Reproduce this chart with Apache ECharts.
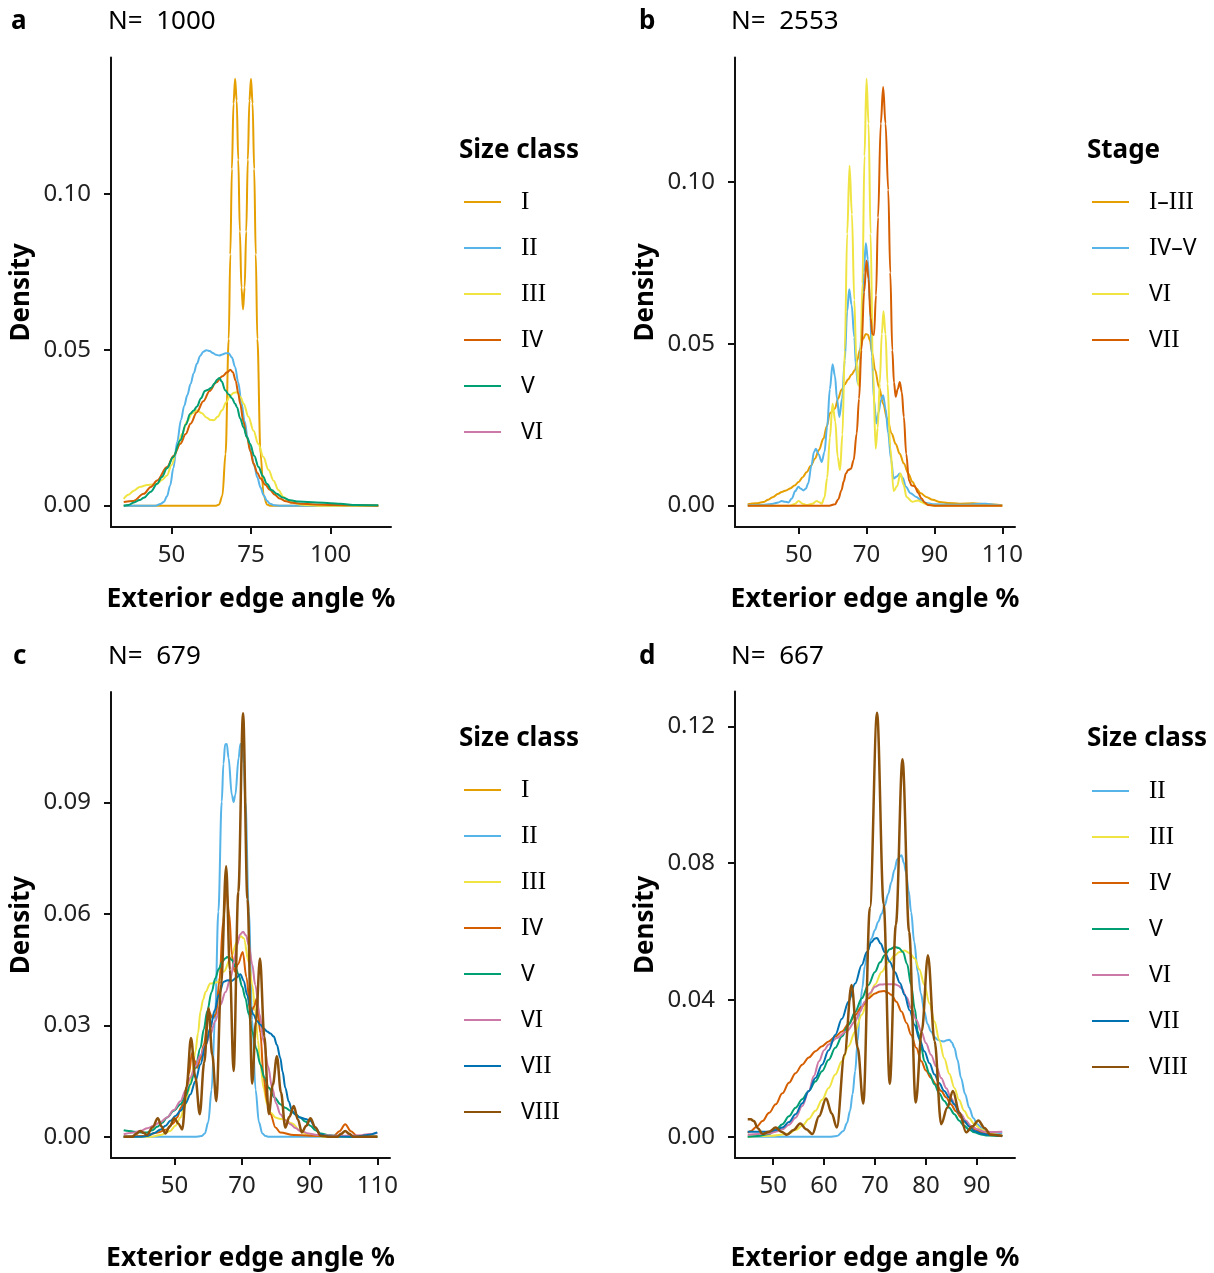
<!DOCTYPE html>
<html>
<head>
<meta charset="utf-8">
<script src="https://cdn.jsdelivr.net/npm/echarts@6/dist/echarts.min.js"></script>
<style>
html,body{margin:0;padding:0;background:#fff;}
#chart{width:1214px;height:1273px;}
</style>
</head>
<body>
<div id="chart"></div>
<script>
// ---------------- Data (x = exterior edge angle, y = density) ----------------
// Panel a (N = 1000), Size class
const a_I = [[35,0],[60,0],[64,0],[65,0.0004],[66,0.0032],[67,0.0166],[68,0.0535],[68.5,0.0806],[69,0.108],[69.5,0.129],[70,0.137],[70.5,0.130],[71,0.111],[71.5,0.088],[72,0.070],[72.5,0.063],[73,0.070],[73.5,0.088],[74,0.111],[74.5,0.130],[75,0.137],[75.5,0.129],[76,0.108],[76.5,0.0806],[77,0.0535],[78,0.0166],[79,0.0032],[80,0.0004],[81,0],[90,0],[115,0]];
const a_II = [[35,0],[45,0],[46.5,0.0005],[47.6,0.0012],[48.6,0.003],[49.6,0.0065],[50.6,0.012],[51.8,0.0205],[53,0.0275],[54,0.032],[55,0.0355],[56,0.039],[57,0.0425],[58,0.0455],[59,0.048],[60,0.0494],[61,0.0499],[62,0.0496],[63,0.049],[64,0.0484],[65,0.0482],[66,0.0485],[67,0.0489],[68,0.0489],[69,0.0475],[70,0.0445],[71,0.0395],[72,0.033],[73,0.027],[74,0.0215],[75,0.017],[76,0.0128],[77,0.009],[78,0.0058],[79,0.0033],[80,0.0016],[81,0.0006],[82.5,0.0001],[84,0],[115,0]];
const a_III = [[35,0.0022],[36.5,0.0035],[38.2,0.0048],[40,0.006],[42.4,0.0066],[44,0.0068],[45.5,0.007],[47,0.0082],[48.6,0.0097],[50,0.013],[51.8,0.0182],[53.3,0.023],[54.9,0.027],[56.5,0.0296],[58,0.0306],[59.5,0.0297],[61,0.0283],[62.3,0.0275],[63.3,0.0274],[64.5,0.0285],[65.9,0.0306],[67.2,0.0332],[68.5,0.0354],[69.6,0.0362],[70.6,0.0364],[71.7,0.0348],[72.7,0.0327],[74.2,0.0285],[75.8,0.024],[77.3,0.0198],[78.9,0.0156],[80.5,0.0115],[82.1,0.008],[83.6,0.005],[85.2,0.0028],[86.7,0.0015],[88.3,0.0009],[90.4,0.0004],[92.5,0.0002],[96,0],[115,0]];
const a_IV = [[35,0.0012],[38,0.0015],[41.3,0.0038],[43.5,0.006],[45.5,0.0081],[48.6,0.0124],[50.7,0.016],[52.8,0.0199],[54.5,0.023],[56,0.0263],[58,0.030],[60,0.0335],[62,0.0368],[64,0.0395],[66,0.0415],[67.5,0.0428],[68.5,0.0436],[69.3,0.0428],[70.2,0.040],[71,0.036],[71.6,0.0327],[72.6,0.027],[73.7,0.022],[74.8,0.0175],[75.8,0.0135],[77,0.0105],[78,0.0087],[79.5,0.0067],[81,0.005],[82.5,0.0035],[84,0.0023],[86,0.0014],[88,0.0009],[90.5,0.0006],[95,0.0004],[101,0.0002],[108,0.0001],[115,0]];
const a_V = [[35,0],[36.5,0.0002],[38.2,0.001],[40,0.0018],[41.3,0.0025],[43.5,0.0045],[45.5,0.007],[47,0.0092],[48.6,0.012],[50.5,0.0155],[52.8,0.021],[54.5,0.026],[55.9,0.0295],[57,0.0305],[58,0.0318],[59.3,0.0345],[60.5,0.0368],[61.5,0.0372],[62.5,0.0378],[63.5,0.0392],[64.4,0.0405],[65.1,0.041],[65.8,0.0398],[66.9,0.037],[68,0.0357],[69,0.0345],[70,0.0327],[70.6,0.0316],[71.6,0.028],[72.7,0.025],[73.7,0.022],[74.7,0.0199],[76,0.016],[77.4,0.0124],[78.7,0.0095],[80,0.007],[81.5,0.005],[83.1,0.0038],[85,0.0026],[87.3,0.0017],[90,0.0013],[95.6,0.001],[100,0.0008],[103,0.0006],[108,0.0002],[115,0.0001]];
const a_VI = [];

// Panel b (N = 2553), Stage
const b_I_III = [[35,0.0004],[37.5,0.0007],[39.6,0.0011],[41,0.0018],[42.5,0.0027],[44,0.0037],[45,0.0042],[46.3,0.0047],[47.5,0.0053],[48.8,0.0062],[50,0.0073],[51.2,0.0088],[52.4,0.0104],[53.6,0.0123],[54.8,0.0145],[56,0.0172],[57.3,0.0207],[58.3,0.0245],[59.2,0.0285],[60.7,0.030],[61.6,0.033],[62.6,0.0357],[63.6,0.0375],[64.6,0.039],[65.6,0.0405],[66.6,0.0419],[67.3,0.045],[68,0.048],[69,0.0515],[69.8,0.053],[70.4,0.0528],[71,0.051],[71.7,0.047],[72.5,0.042],[73.7,0.0365],[74.9,0.0315],[76.1,0.0268],[77.4,0.0223],[78.6,0.019],[79.8,0.016],[81,0.013],[82.3,0.0099],[83.5,0.0074],[84.7,0.0053],[86,0.0038],[87.6,0.0027],[89.5,0.0018],[91.6,0.0011],[94,0.0008],[97.5,0.0006],[101.4,0.0007],[105.3,0.0004],[110,0.0001]];
const b_IV_V = [[35,0.0001],[40,0.0003],[42.5,0.0006],[44,0.001],[45,0.0014],[46,0.0012],[47,0.001],[48,0.0022],[49,0.0045],[49.9,0.0058],[50.7,0.0052],[51.4,0.0047],[52.1,0.0052],[52.8,0.0068],[53.8,0.0125],[54.5,0.0165],[55.1,0.0176],[55.9,0.0158],[56.8,0.0135],[57.6,0.0165],[58.4,0.0243],[59.2,0.036],[60,0.0437],[60.7,0.040],[61.3,0.033],[62,0.0274],[62.8,0.033],[63.6,0.045],[64.3,0.060],[64.9,0.0668],[65.6,0.062],[66.4,0.052],[66.9,0.043],[67.4,0.0377],[67.9,0.042],[68.5,0.053],[69.2,0.072],[69.8,0.081],[70.4,0.076],[71,0.0625],[71.6,0.046],[72.2,0.0326],[72.9,0.0254],[73.6,0.029],[74.2,0.0325],[74.9,0.0341],[75.6,0.030],[76.4,0.0223],[77.2,0.0145],[78,0.0084],[78.9,0.009],[79.8,0.0099],[80.7,0.0085],[81.6,0.0058],[83,0.0038],[84.7,0.0027],[86,0.0017],[87.6,0.0008],[90,0.0004],[95.5,0.0003],[100,0.0003],[103,0.0005],[105.3,0.0006],[107.5,0.0003],[110,0]];
const b_VI = [[35,0],[45,0],[47.5,0],[48.8,0.0005],[50,0.0014],[51.2,0.0006],[52.4,0.0002],[54,0.0006],[55.3,0.0014],[56.2,0.001],[56.8,0.0006],[57.6,0.0025],[58.4,0.0085],[59.2,0.021],[60,0.0315],[60.8,0.026],[61.5,0.015],[62.2,0.011],[62.9,0.022],[63.6,0.048],[64.3,0.084],[65,0.105],[65.7,0.090],[66.4,0.0635],[67,0.045],[67.6,0.037],[68.2,0.045],[68.8,0.0687],[69.4,0.108],[70,0.1318],[70.6,0.118],[71.2,0.084],[71.9,0.042],[72.7,0.0176],[73.3,0.024],[73.9,0.0377],[74.5,0.053],[75,0.060],[75.6,0.053],[76.2,0.0377],[77,0.018],[78,0.0045],[79,0.006],[80,0.0099],[80.9,0.0065],[81.8,0.0027],[83.5,0.0012],[85.2,0.0016],[86.4,0.001],[87.6,0.0004],[90,0],[110,0]];
const b_VII = [[35,0],[59,0],[60.7,0.0004],[61.7,0.002],[62.6,0.0047],[63.3,0.0075],[63.9,0.0099],[64.6,0.011],[65.4,0.0114],[66.2,0.014],[67.1,0.0223],[67.8,0.033],[68.5,0.048],[69.3,0.066],[70,0.0757],[70.6,0.070],[71.2,0.058],[71.7,0.053],[72.2,0.0527],[72.8,0.065],[73.4,0.089],[74.2,0.118],[74.9,0.1293],[75.6,0.118],[76.4,0.0975],[77,0.072],[77.6,0.048],[78.1,0.038],[78.6,0.0336],[79.2,0.036],[79.8,0.0382],[80.4,0.035],[81,0.0274],[81.7,0.016],[82.5,0.0078],[83.3,0.0062],[84.2,0.006],[85.2,0.004],[86.2,0.0022],[87.1,0.001],[88.1,0.0002],[90,0],[110,0]];

// Panel c (N = 679), Size class
const c_I = [];
const c_II = [[35,0],[56,0],[57,0.0001],[58,0.0002],[59,0.0009],[60,0.0039],[61,0.0127],[62,0.0315],[63,0.0607],[64,0.0903],[64.5,0.1005],[65,0.1057],[65.5,0.1058],[66,0.1021],[67,0.092],[67.5,0.0902],[68,0.092],[69,0.1021],[69.5,0.1058],[70,0.1057],[70.5,0.1005],[71,0.0903],[72,0.0607],[73,0.0315],[74,0.0127],[75,0.0039],[76,0.0009],[77,0.0002],[78,0],[110,0]];
const c_III = [[35,0],[43,0],[45.9,0.0005],[48.8,0.0016],[50.3,0.003],[51.8,0.0052],[53,0.008],[54.2,0.0123],[55.2,0.017],[56.2,0.023],[57,0.028],[57.7,0.0338],[58.5,0.037],[59.2,0.039],[60.6,0.0413],[62.6,0.0416],[64.6,0.0445],[66.6,0.048],[68.5,0.0525],[69.6,0.054],[70.5,0.0535],[72,0.047],[73,0.041],[73.9,0.0338],[74.7,0.026],[75.4,0.0195],[76.4,0.013],[77.4,0.0088],[78.5,0.0065],[79.9,0.0052],[81,0.0049],[82.3,0.0047],[84.8,0.0036],[87.2,0.0016],[89,0.0008],[91.2,0.0003],[95,0],[110,0]];
const c_IV = [[35,0],[41,0.0002],[45.1,0.0012],[47.8,0.002],[49.5,0.0035],[50.8,0.0052],[52,0.008],[53.3,0.0114],[54.3,0.017],[55.2,0.0226],[56,0.0205],[56.7,0.0186],[57.7,0.021],[58.7,0.0248],[60.1,0.0338],[61.3,0.032],[62.3,0.033],[63.3,0.042],[64.4,0.058],[65.3,0.0668],[66.2,0.060],[67,0.049],[67.8,0.0445],[68.8,0.0465],[70.2,0.0498],[71.3,0.043],[72.5,0.0329],[73.5,0.035],[74.4,0.0373],[75.4,0.028],[76.4,0.0159],[77.4,0.0095],[78.4,0.0061],[79.9,0.0025],[81.3,0.0012],[85.3,0.0005],[90,0.0003],[97.1,0.0002],[98.8,0.0015],[100.5,0.0034],[102.2,0.0015],[104,0.0002],[110,0]];
const c_V = [[35,0.0018],[36.5,0.0016],[38,0.0014],[40,0.0012],[41.9,0.0012],[43.5,0.0018],[44.9,0.0027],[46.4,0.0038],[47.8,0.0052],[49.8,0.007],[51.8,0.0088],[53.3,0.011],[54.7,0.0141],[56.2,0.0185],[57.7,0.024],[58.7,0.029],[59.7,0.0338],[61,0.039],[62.1,0.0427],[63.1,0.0452],[64.1,0.0471],[65,0.048],[65.6,0.0484],[66.3,0.0482],[67,0.0476],[68,0.0458],[69,0.0436],[70,0.0405],[71,0.0373],[72,0.033],[73,0.0284],[74.2,0.0238],[75.4,0.0195],[76.6,0.016],[77.9,0.0132],[79.6,0.0106],[81.3,0.0088],[82.8,0.0078],[84.3,0.007],[85.8,0.0061],[87.2,0.0052],[88.7,0.0041],[90.2,0.003],[91.7,0.0018],[93.2,0.0009],[96,0.0004],[99.1,0.0002],[103,0],[110,0]];
const c_VI = [[35,0.0007],[37.5,0.0011],[39.9,0.0016],[42,0.0023],[43.9,0.003],[45.9,0.004],[47.8,0.0052],[49.8,0.0072],[51.8,0.0096],[53.3,0.0125],[54.7,0.0159],[56.2,0.019],[57.7,0.022],[59.2,0.0248],[60.6,0.0275],[62.1,0.0312],[63.6,0.0355],[65.1,0.039],[66.6,0.0427],[67.6,0.047],[68.5,0.0516],[69.4,0.0545],[70.3,0.0552],[71.2,0.0542],[72,0.0516],[73,0.0465],[73.9,0.0409],[75.2,0.033],[76.4,0.0257],[77.7,0.019],[78.9,0.0132],[80.1,0.009],[81.3,0.0061],[82.8,0.0045],[84.3,0.0034],[85.8,0.0024],[87.2,0.0016],[89.7,0.0009],[92.2,0.0005],[97.1,0.0003],[102,0.0003],[105,0.0004],[107,0.0007],[110,0.001]];
const c_VII = [[35,0],[40,0],[41.9,0.0002],[44,0.001],[45.9,0.002],[47.4,0.003],[48.8,0.0043],[50.3,0.0056],[51.8,0.007],[53.3,0.009],[54.7,0.0114],[56.2,0.015],[57.7,0.0195],[59.2,0.0245],[60.6,0.0293],[61.9,0.034],[63.1,0.0382],[64.6,0.0418],[65.8,0.0422],[67,0.042],[68.2,0.0428],[69.5,0.0438],[70.5,0.042],[71.5,0.0382],[72.4,0.035],[73.4,0.0329],[74.4,0.0312],[75.4,0.0302],[76.4,0.0292],[77.4,0.0284],[78.4,0.0278],[79.4,0.027],[80.3,0.0248],[81.3,0.0213],[82,0.0175],[82.8,0.0132],[83.8,0.0095],[84.8,0.007],[86,0.0058],[87.2,0.0052],[88.7,0.0048],[90.2,0.0043],[91.7,0.0025],[93.2,0.0007],[95,0.0002],[97.1,0],[103,0],[105,0.0002],[107,0.0005],[110,0.0012]];
const c_VIII = [[35,0],[37.5,0],[38.7,0.0008],[39.9,0.0016],[41,0.001],[41.9,0.0005],[43.5,0.0025],[45.1,0.005],[46.2,0.0028],[47.3,0.0009],[48.6,0.0028],[50,0.005],[51.2,0.0035],[52.3,0.002],[53.6,0.0135],[54.9,0.0266],[56.2,0.016],[57.5,0.0061],[58.8,0.02],[60.1,0.0346],[61.2,0.022],[62.4,0.0096],[63.8,0.041],[65.3,0.0729],[66.4,0.045],[67.5,0.0177],[68.9,0.066],[70.3,0.1141],[71.6,0.064],[73,0.0143],[74.1,0.031],[75.3,0.048],[76.6,0.027],[77.9,0.0061],[79.1,0.014],[80.3,0.0217],[81.5,0.012],[82.8,0.0025],[84,0.0054],[85.3,0.0083],[86.5,0.0047],[87.7,0.0012],[89,0.003],[90.2,0.005],[91.7,0.0025],[93.2,0.0003],[96,0],[98.1,0],[99.3,0.0008],[100.5,0.0016],[101.7,0.0008],[103,0],[110,0]];

// Panel d (N = 667), Size class
const d_II = [[45,0],[61,0],[62.5,0.0002],[63.8,0.0017],[64.5,0.004],[65.1,0.0076],[65.6,0.0125],[66.1,0.0192],[66.6,0.028],[67,0.0366],[67.5,0.0435],[68,0.050],[68.6,0.0545],[69.3,0.058],[70,0.0605],[70.6,0.0628],[71.3,0.0652],[71.9,0.0676],[72.6,0.071],[73.2,0.0744],[73.8,0.078],[74.4,0.0812],[75.2,0.0823],[75.7,0.080],[76.1,0.0773],[76.6,0.072],[77.1,0.0657],[77.7,0.057],[78.4,0.0482],[79,0.042],[79.7,0.0366],[80.3,0.033],[81,0.0308],[81.7,0.0292],[82.3,0.0284],[83,0.028],[83.5,0.0279],[84.1,0.0282],[84.6,0.0284],[85.1,0.0276],[85.6,0.026],[86.2,0.0225],[86.9,0.0172],[87.7,0.0125],[88.5,0.0085],[89.3,0.0055],[90.1,0.0037],[91,0.0025],[92.1,0.0015],[93.5,0.0012],[95,0.001]];
const d_III = [[45,0],[49.8,0.0003],[51.5,0.0006],[53.1,0.001],[54.4,0.002],[55.7,0.0032],[57,0.0052],[58.3,0.0076],[59.6,0.0108],[60.9,0.0143],[62.2,0.0182],[63.5,0.0221],[64.8,0.0265],[66.1,0.0308],[67.4,0.0357],[68.7,0.0405],[70,0.0445],[71.3,0.0482],[72.6,0.051],[73.9,0.0531],[74.8,0.054],[75.8,0.0545],[76.8,0.0537],[77.8,0.0521],[78.7,0.049],[79.7,0.0444],[80.7,0.039],[81.7,0.0337],[82.6,0.0283],[83.6,0.023],[84.6,0.0184],[85.6,0.0143],[86.5,0.0108],[87.5,0.0076],[88.5,0.0054],[89.5,0.0037],[90.8,0.0022],[92.1,0.0013],[93.6,0.0007],[95,0.0003]];
const d_IV = [[45,0.0012],[45.6,0.0017],[46.8,0.003],[47.9,0.0046],[49.2,0.007],[50.5,0.0095],[51.8,0.0127],[53.1,0.0158],[54.4,0.0186],[55.7,0.0211],[57,0.0232],[58.3,0.025],[59.6,0.0265],[60.9,0.0279],[62.2,0.0293],[63.5,0.0308],[64.8,0.033],[66.1,0.0356],[67.4,0.038],[68.7,0.0405],[70,0.0419],[71,0.0425],[71.8,0.0426],[72.5,0.0422],[73.2,0.0415],[74.2,0.0395],[75.2,0.0366],[76.2,0.0333],[77.1,0.0298],[78.1,0.026],[79.1,0.0221],[80,0.0194],[81,0.0172],[82,0.0153],[83,0.0134],[84,0.0115],[84.9,0.0095],[85.9,0.0075],[86.9,0.0056],[88.2,0.0037],[89.5,0.0022],[90.8,0.0014],[92.1,0.0008],[93.6,0.0005],[95,0.0004]];
const d_V = [[45,0],[47,0.0002],[49.2,0.0008],[50.5,0.002],[51.8,0.0037],[53.1,0.006],[54.4,0.0085],[55.7,0.011],[57,0.0134],[58.3,0.0162],[59.6,0.0192],[60.9,0.0225],[62.2,0.026],[63.5,0.0293],[64.8,0.0327],[66.1,0.0365],[67.4,0.0405],[68.7,0.0444],[70,0.0482],[71,0.051],[71.9,0.0531],[72.9,0.0548],[73.9,0.0555],[74.7,0.0552],[75.5,0.054],[76.3,0.0505],[77.1,0.0444],[77.8,0.0375],[78.4,0.0308],[79.1,0.026],[79.7,0.0221],[80.7,0.0185],[81.7,0.0153],[82.6,0.0127],[83.6,0.0105],[84.6,0.0085],[85.6,0.0066],[86.5,0.0048],[87.5,0.0032],[88.5,0.0021],[89.5,0.0013],[90.8,0.0007],[92.1,0.0004],[95,0.0002]];
const d_VI = [[45,0.0006],[47,0.0008],[49.2,0.001],[50.5,0.0015],[51.8,0.0022],[53.1,0.0035],[54.4,0.0056],[55.7,0.009],[57,0.0134],[58,0.0178],[59,0.0221],[60,0.0253],[60.9,0.027],[62.5,0.0289],[64.4,0.0308],[66.1,0.0337],[67,0.0365],[68,0.0395],[69,0.042],[70,0.0439],[71,0.0445],[71.9,0.0446],[73,0.0446],[73.9,0.0446],[74.6,0.0442],[75.2,0.0434],[76.2,0.0408],[77.1,0.0376],[78.1,0.0342],[79.1,0.0308],[80,0.0274],[81,0.024],[82,0.0206],[83,0.0172],[84,0.0142],[84.9,0.0114],[85.9,0.0088],[86.9,0.0066],[87.8,0.0048],[88.8,0.0032],[90.1,0.0022],[91.4,0.0015],[93,0.0014],[95,0.0015]];
const d_VII = [[45,0.0015],[47,0.0015],[49.2,0.0015],[50.5,0.002],[51.8,0.0027],[53.1,0.0043],[54.4,0.0066],[55.7,0.0098],[57,0.0134],[58.3,0.0172],[59.6,0.0211],[60.9,0.0253],[62.2,0.0298],[63.5,0.0345],[64.8,0.0395],[66.1,0.0448],[67.4,0.0502],[68.4,0.054],[69.3,0.0569],[70,0.058],[70.4,0.0581],[71.1,0.0565],[71.9,0.054],[72.9,0.0512],[73.9,0.0482],[74.9,0.045],[75.8,0.0415],[76.8,0.037],[77.8,0.0327],[78.7,0.0287],[79.7,0.025],[80.7,0.0215],[81.7,0.0182],[82.6,0.0157],[83.6,0.0134],[84.6,0.0114],[85.6,0.0095],[86.5,0.007],[87.5,0.0046],[88.5,0.003],[89.5,0.0017],[90.8,0.001],[92.1,0.0006],[95,0.0002]];
const d_VIII = [[45,0.0051],[45.6,0.0051],[46.2,0.0046],[47,0.0025],[47.9,0.0008],[49.2,0.0015],[50.5,0.0027],[51.6,0.0015],[52.7,0.0006],[54,0.002],[55.3,0.0039],[56.5,0.0022],[57.7,0.0008],[59,0.006],[60.4,0.0112],[61.5,0.0068],[62.5,0.0027],[64,0.024],[65.4,0.0444],[66.6,0.026],[67.7,0.0097],[69,0.067],[70.4,0.124],[71.7,0.068],[72.9,0.0155],[74.1,0.062],[75.4,0.1104],[76.7,0.06],[78,0.01],[79.2,0.031],[80.4,0.0531],[81.7,0.028],[83,0.0037],[84.2,0.0085],[85.3,0.0134],[86.6,0.007],[87.9,0.0013],[89.1,0.003],[90.3,0.0048],[91.5,0.0026],[92.7,0.0006],[95,0.0002]];

// Labels / ticks
const sizeNames = ['I','II','III','IV','V','VI','VII','VIII'];
const stageNames = ['I–III','IV–V','VI ','VII '];   // trailing space keeps them distinct from size classes
const panelN = [1000, 2553, 679, 667];
const xTicksA = [50, 75, 100];
const xTicksB = [50, 70, 90, 110];
const xTicksC = [50, 70, 90, 110];
const xTicksD = [50, 60, 70, 80, 90];
const yTicksA = [0, 0.05, 0.10];
const yTicksB = [0, 0.05, 0.10];
const yTicksC = [0, 0.03, 0.06, 0.09];
const yTicksD = [0, 0.04, 0.08, 0.12];

// ---------------- Styling ----------------
const FONT = '"Noto Sans", "Open Sans", "DejaVu Sans", sans-serif';
const SERIF = '"Liberation Serif", "DejaVu Serif", serif';
const sizeColors = {'I':'#E69F00','II':'#56B4E9','III':'#F0E442','IV':'#D55E00','V':'#009E73','VI':'#CC79A7','VII':'#0072B2','VIII':'#8C510A'};
const stageColors = ['#E69F00','#56B4E9','#F0E442','#D55E00'];

const grids = [
  {left:111, top:57.5, width:280, height:469.5},
  {left:735, top:57.5, width:280, height:469.5},
  {left:111, top:692, width:279, height:468.5},
  {left:735, top:691.5, width:280, height:469}
];
const xRanges = [[31, 119], [31.25, 113.75], [31.25, 113.75], [42.5, 97.5]];
const yRanges = [[-0.00685, 0.1438], [-0.0066, 0.1384], [-0.0057, 0.1198], [-0.0062, 0.1302]];
const xTicks = [xTicksA, xTicksB, xTicksC, xTicksD];
const yTicks = [yTicksA, yTicksB, yTicksC, yTicksD];
const xNameGap = [59, 59, 87, 87];

const axisLineStyle = {color:'#111', width:2};

const xAxes = grids.map((g, i) => ({
  type:'value', gridIndex:i, min:xRanges[i][0], max:xRanges[i][1],
  name:'Exterior edge angle %', nameLocation:'middle', nameGap:xNameGap[i],
  nameTextStyle:{fontFamily:FONT, fontSize:26.5, fontWeight:'bold', color:'#000'},
  axisLine:{show:true, onZero:false, lineStyle:axisLineStyle},
  axisTick:{show:true, length:7, lineStyle:axisLineStyle, customValues:xTicks[i]},
  axisLabel:{show:true, customValues:xTicks[i], fontFamily:FONT, fontSize:24, color:'#222', margin:16},
  splitLine:{show:false}
}));
const yAxes = grids.map((g, i) => ({
  type:'value', gridIndex:i, min:yRanges[i][0], max:yRanges[i][1],
  name:'Density', nameLocation:'middle', nameRotate:90, nameGap:76,
  nameTextStyle:{fontFamily:FONT, fontSize:26, fontWeight:'bold', color:'#000'},
  axisLine:{show:true, onZero:false, lineStyle:axisLineStyle},
  axisTick:{show:true, length:7, lineStyle:axisLineStyle, customValues:yTicks[i]},
  axisLabel:{show:true, customValues:yTicks[i], fontFamily:FONT, fontSize:24, color:'#222', margin:20,
    formatter:(v)=>Number(v).toFixed(2)},
  splitLine:{show:false}
}));

function mk(name, data, gi, color, w) {
  return {
    type:'line', name:name, data:data, xAxisIndex:gi, yAxisIndex:gi,
    showSymbol:false, symbol:'none', smooth:0.35, smoothMonotone:'x',
    color:color, itemStyle:{color:color},
    lineStyle:{color:color, width:w || 2}, animation:false, silent:true
  };
}
const series = [
  mk('I', a_I, 0, sizeColors.I),
  mk('II', a_II, 0, sizeColors.II),
  mk('III', a_III, 0, sizeColors.III),
  mk('IV', a_IV, 0, sizeColors.IV),
  mk('V', a_V, 0, sizeColors.V),
  mk('VI', a_VI, 0, sizeColors.VI),
  mk(stageNames[0], b_I_III, 1, stageColors[0]),
  mk(stageNames[1], b_IV_V, 1, stageColors[1]),
  mk(stageNames[2], b_VI, 1, stageColors[2]),
  mk(stageNames[3], b_VII, 1, stageColors[3]),
  mk('I', c_I, 2, sizeColors.I),
  mk('II', c_II, 2, sizeColors.II),
  mk('III', c_III, 2, sizeColors.III),
  mk('IV', c_IV, 2, sizeColors.IV),
  mk('V', c_V, 2, sizeColors.V),
  mk('VI', c_VI, 2, sizeColors.VI),
  mk('VII', c_VII, 2, sizeColors.VII),
  mk('VIII', c_VIII, 2, sizeColors.VIII, 2.5),
  mk('II', d_II, 3, sizeColors.II),
  mk('III', d_III, 3, sizeColors.III),
  mk('IV', d_IV, 3, sizeColors.IV),
  mk('V', d_V, 3, sizeColors.V),
  mk('VI', d_VI, 3, sizeColors.VI),
  mk('VII', d_VII, 3, sizeColors.VII),
  mk('VIII', d_VIII, 3, sizeColors.VIII, 2.5)
];

// Roman numerals: 'I' drawn with a serifed face like in the reference
function romanRich(n) {
  return n.trim().split('').map(ch => ch === 'I' ? '{s|I}' : '{v|' + ch + '}').join('');
}
function legend(names, left, top) {
  return {
    orient:'vertical', left:left, top:top, padding:0, itemGap:20,
    icon:'rect', itemWidth:37, itemHeight:2, selectedMode:false,
    data:names,
    formatter:romanRich,
    textStyle:{fontFamily:FONT, fontSize:23, color:'#000', lineHeight:26, padding:[0,0,0,15],
      rich:{
        s:{fontFamily:SERIF, fontSize:25, color:'#000', lineHeight:26},
        v:{fontFamily:FONT, fontSize:23, color:'#000', lineHeight:26}
      }}
  };
}
const legends = [
  legend(sizeNames.slice(0,6), 464, 189),
  legend(stageNames, 1092, 189),
  legend(sizeNames.slice(0,8), 464, 777),
  legend(sizeNames.slice(1,8), 1092, 778)
];

function txt(text, x, y, size, bold) {
  return {type:'text', x:x, y:y, silent:true,
    style:{text:text, fill:'#000', font:(bold?'bold ':'')+size+'px '+FONT, textVerticalAlign:'middle'}};
}
const graphics = [
  txt('a', 11, 22, 26, true), txt('N=  ' + panelN[0], 108, 22, 26, false),
  txt('b', 639, 22, 26, true), txt('N=  ' + panelN[1], 731, 22, 26, false),
  txt('c', 13, 657, 26, true), txt('N=  ' + panelN[2], 108, 657, 26, false),
  txt('d', 639, 657, 26, true), txt('N=  ' + panelN[3], 731, 657, 26, false),
  txt('Size class', 459, 151, 26, true),
  txt('Stage', 1087, 151, 26, true),
  txt('Size class', 459, 739, 26, true),
  txt('Size class', 1087, 739, 26, true)
];

const chart = echarts.init(document.getElementById('chart'), null, {renderer:'canvas'});
chart.setOption({
  animation:false,
  backgroundColor:'#fff',
  grid:grids.map(g => Object.assign({containLabel:false}, g)),
  xAxis:xAxes, yAxis:yAxes,
  legend:legends,
  series:series,
  graphic:graphics
});
</script>
</body>
</html>
